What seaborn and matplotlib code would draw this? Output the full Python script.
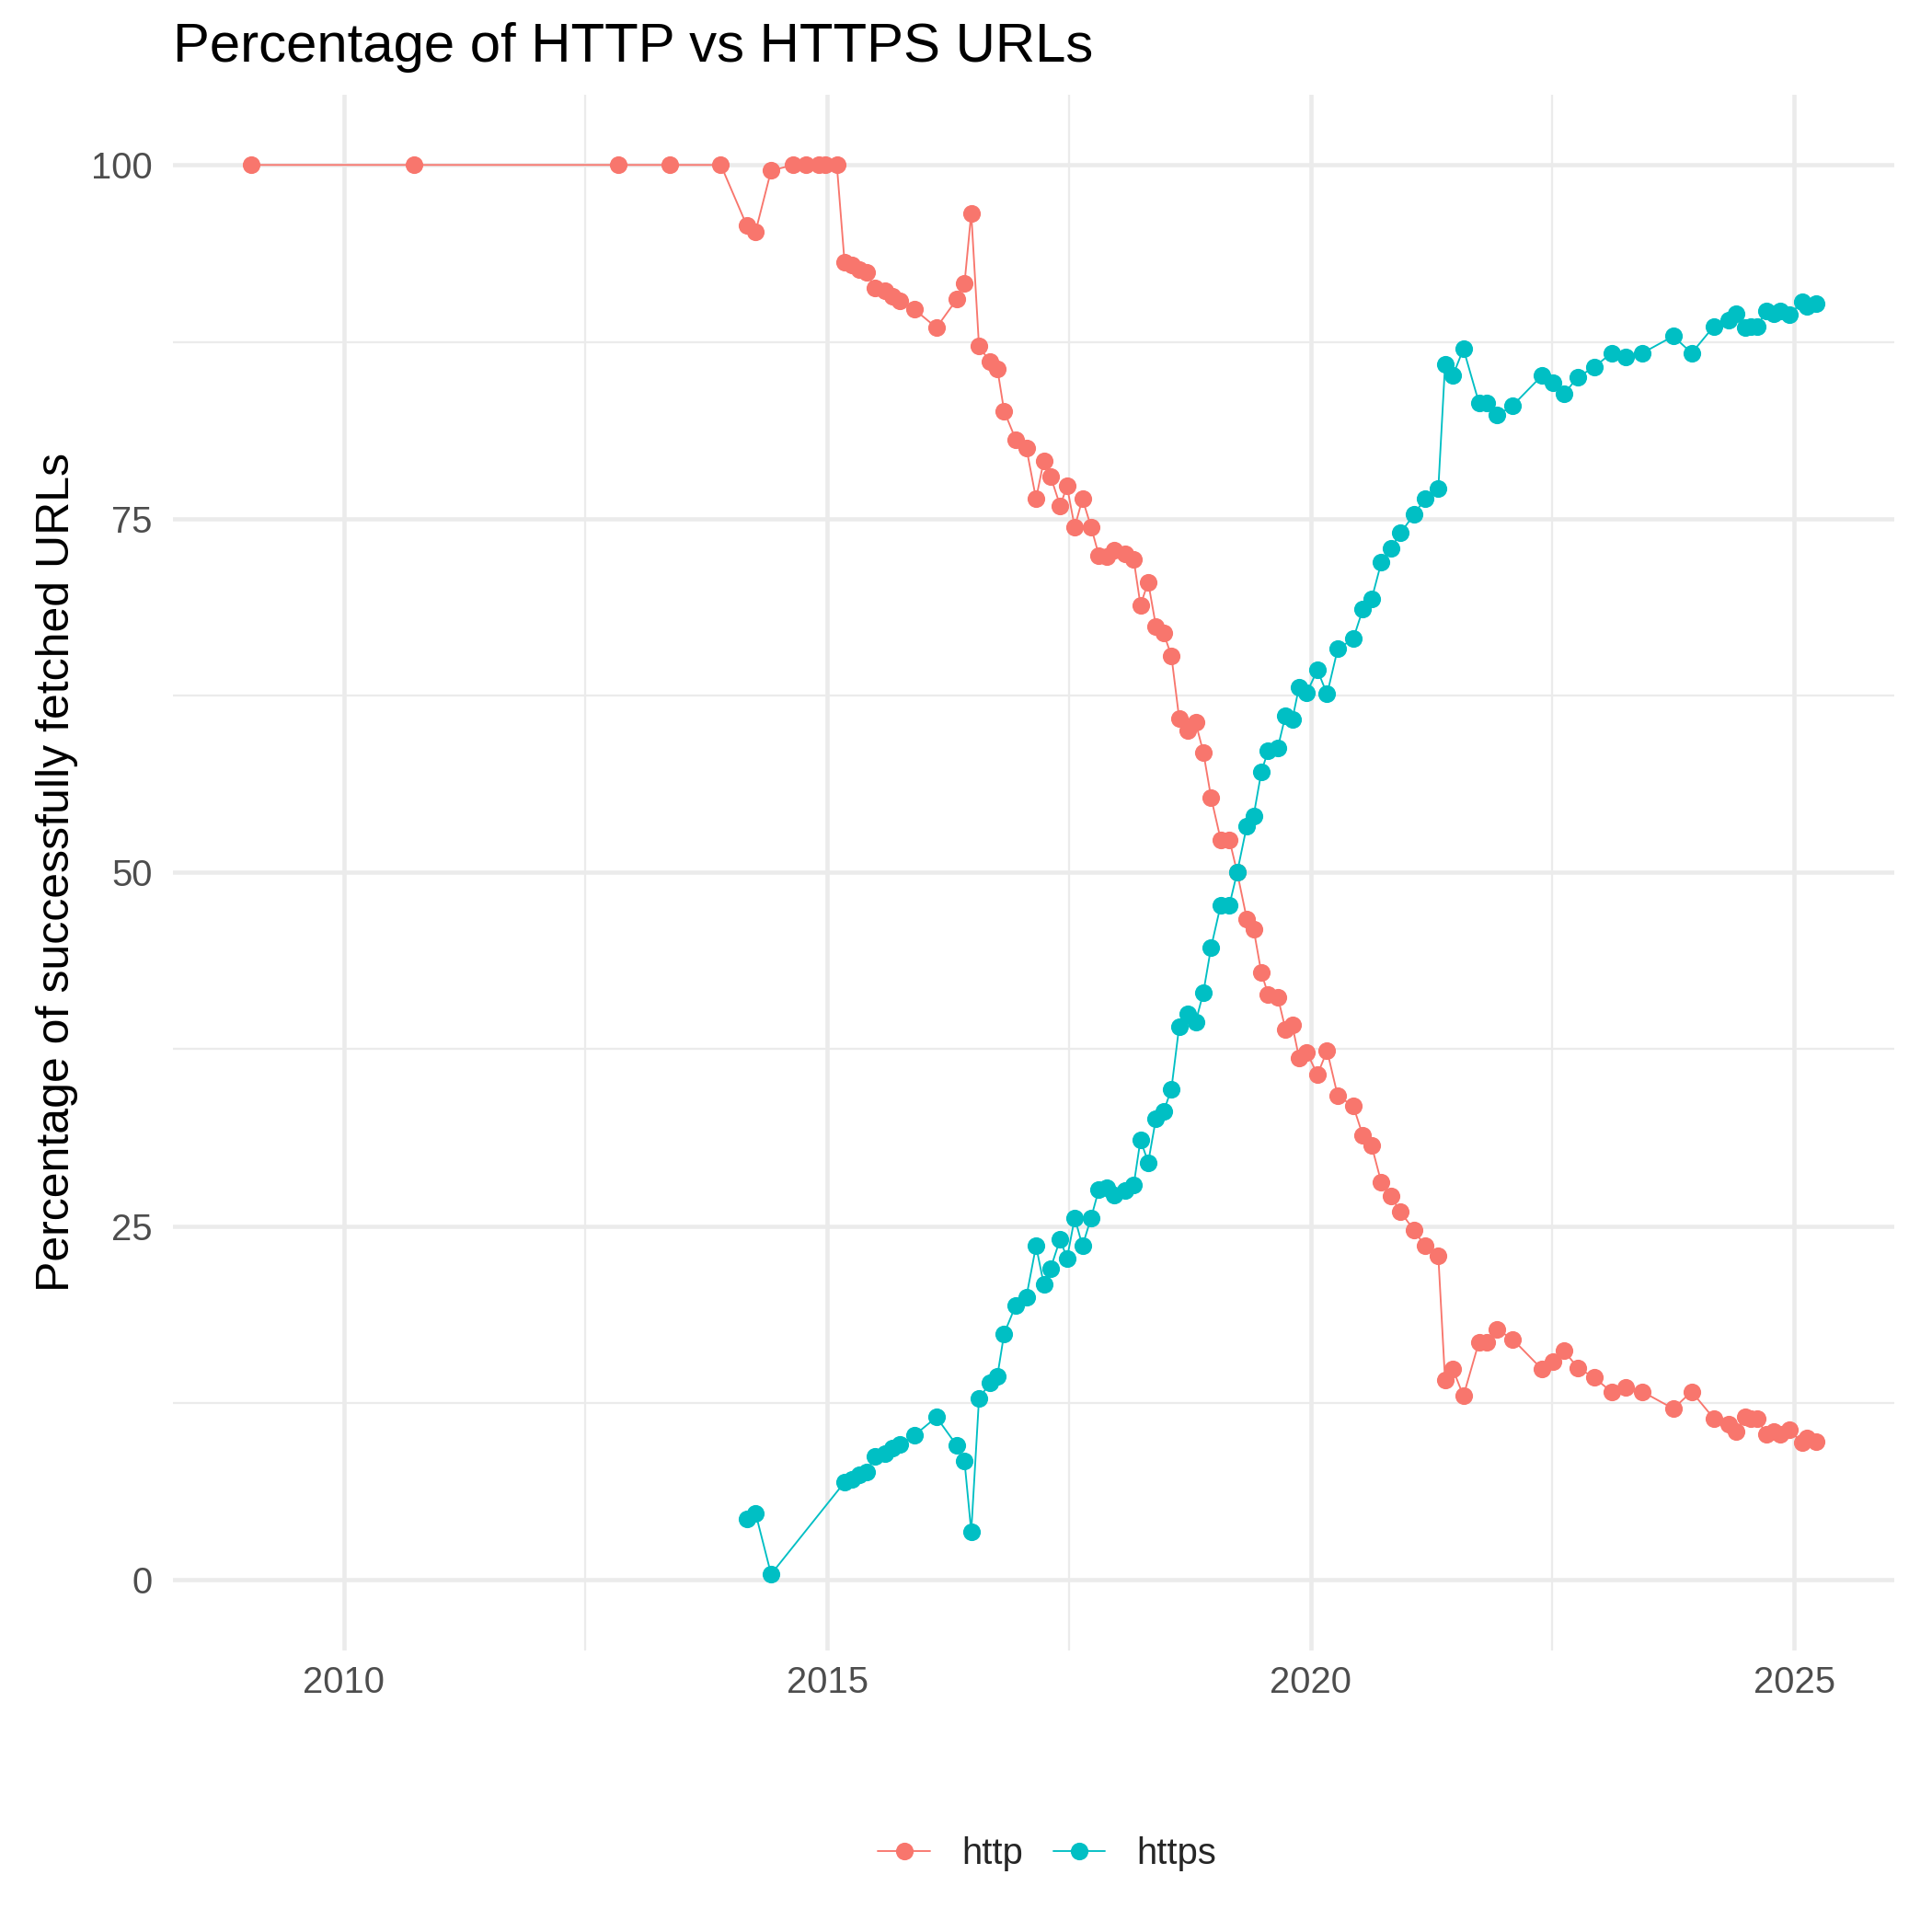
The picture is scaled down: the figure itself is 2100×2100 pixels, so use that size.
import pandas as pd
import matplotlib
matplotlib.use('Agg')
import matplotlib.pyplot as plt
import seaborn as sns

# Datum jako desetinny rok
http_dates = [2009.04, 2010.73, 2012.84, 2013.37, 2013.90, 2014.17, 2014.26, 2014.42,
              2014.65, 2014.78, 2014.91, 2014.98, 2015.10, 2015.18, 2015.26, 2015.33,
              2015.41, 2015.49, 2015.60, 2015.67, 2015.75, 2015.90, 2016.13, 2016.34,
              2016.42, 2016.49, 2016.57, 2016.68, 2016.76, 2016.83, 2016.95, 2017.06,
              2017.16, 2017.24, 2017.31, 2017.41, 2017.48, 2017.56, 2017.64, 2017.73,
              2017.81, 2017.89, 2017.97, 2018.08, 2018.17, 2018.24, 2018.32, 2018.40,
              2018.48, 2018.56, 2018.64, 2018.73, 2018.81, 2018.89, 2018.97, 2019.07,
              2019.16, 2019.24, 2019.34, 2019.41, 2019.49, 2019.56, 2019.66, 2019.74,
              2019.81, 2019.88, 2019.96, 2020.07, 2020.17, 2020.28, 2020.44, 2020.54,
              2020.63, 2020.73, 2020.83, 2020.93, 2021.07, 2021.18, 2021.32, 2021.39,
              2021.47, 2021.58, 2021.74, 2021.82, 2021.93, 2022.09, 2022.39, 2022.51,
              2022.62, 2022.76, 2022.93, 2023.11, 2023.26, 2023.43, 2023.75, 2023.94,
              2024.17, 2024.32, 2024.40, 2024.49, 2024.55, 2024.62, 2024.71, 2024.79,
              2024.86, 2024.95, 2025.08, 2025.13, 2025.23]
http_pct = [100, 100, 100, 100, 100, 95.7, 95.3, 99.6,
            100, 100, 100, 100, 100, 93.1, 92.9, 92.6,
            92.4, 91.3, 91.1, 90.7, 90.4, 89.8, 88.5, 90.5,
            91.6, 96.6, 87.2, 86.1, 85.6, 82.6, 80.6, 80.0,
            76.4, 79.1, 78.0, 75.9, 77.3, 74.4, 76.4, 74.4,
            72.4, 72.3, 72.8, 72.5, 72.1, 68.9, 70.5, 67.4,
            66.9, 65.3, 60.9, 60.0, 60.6, 58.5, 55.3, 52.3,
            52.3, 50.0, 46.7, 46.0, 42.9, 41.4, 41.2, 38.9,
            39.2, 36.9, 37.3, 35.7, 37.4, 34.2, 33.5, 31.4,
            30.7, 28.1, 27.1, 26.0, 24.7, 23.6, 22.9, 14.1,
            14.9, 13.0, 16.8, 16.8, 17.7, 17.0, 14.9, 15.4,
            16.2, 15.0, 14.3, 13.3, 13.6, 13.3, 12.1, 13.3,
            11.4, 11.0, 10.5, 11.5, 11.4, 11.4, 10.3, 10.5,
            10.3, 10.6, 9.7, 10.0, 9.8]

https_dates = [2014.17, 2014.26, 2014.42, 2015.18, 2015.26, 2015.33,
               2015.41, 2015.49, 2015.60, 2015.67, 2015.75, 2015.90, 2016.13, 2016.34,
               2016.42, 2016.49, 2016.57, 2016.68, 2016.76, 2016.83, 2016.95, 2017.06,
               2017.16, 2017.24, 2017.31, 2017.41, 2017.48, 2017.56, 2017.64, 2017.73,
               2017.81, 2017.89, 2017.97, 2018.08, 2018.17, 2018.24, 2018.32, 2018.40,
               2018.48, 2018.56, 2018.64, 2018.73, 2018.81, 2018.89, 2018.97, 2019.07,
               2019.16, 2019.24, 2019.34, 2019.41, 2019.49, 2019.56, 2019.66, 2019.74,
               2019.81, 2019.88, 2019.96, 2020.07, 2020.17, 2020.28, 2020.44, 2020.54,
               2020.63, 2020.73, 2020.83, 2020.93, 2021.07, 2021.18, 2021.32, 2021.39,
               2021.47, 2021.58, 2021.74, 2021.82, 2021.93, 2022.09, 2022.39, 2022.51,
               2022.62, 2022.76, 2022.93, 2023.11, 2023.26, 2023.43, 2023.75, 2023.94,
               2024.17, 2024.32, 2024.40, 2024.49, 2024.55, 2024.62, 2024.71, 2024.79,
               2024.86, 2024.95, 2025.08, 2025.13, 2025.23]
https_pct = [4.3, 4.7, 0.4, 6.9, 7.1, 7.4,
             7.6, 8.7, 8.9, 9.3, 9.6, 10.2, 11.5, 9.5,
             8.4, 3.4, 12.8, 13.9, 14.4, 17.4, 19.4, 20.0,
             23.6, 20.9, 22.0, 24.1, 22.7, 25.6, 23.6, 25.6,
             27.6, 27.7, 27.2, 27.5, 27.9, 31.1, 29.5, 32.6,
             33.1, 34.7, 39.1, 40.0, 39.4, 41.5, 44.7, 47.7,
             47.7, 50.0, 53.3, 54.0, 57.1, 58.6, 58.8, 61.1,
             60.8, 63.1, 62.7, 64.3, 62.6, 65.8, 66.5, 68.6,
             69.3, 71.9, 72.9, 74.0, 75.3, 76.4, 77.1, 85.9,
             85.1, 87.0, 83.2, 83.2, 82.3, 83.0, 85.1, 84.6,
             83.8, 85.0, 85.7, 86.7, 86.4, 86.7, 87.9, 86.7,
             88.6, 89.0, 89.5, 88.5, 88.6, 88.6, 89.7, 89.5,
             89.7, 89.4, 90.3, 90.0, 90.2]

x_ticks = [2010, 2015, 2020, 2025]
y_ticks = [0, 25, 50, 75, 100]

df = pd.concat([
    pd.DataFrame({'date': http_dates, 'pct': http_pct, 'scheme': 'http'}),
    pd.DataFrame({'date': https_dates, 'pct': https_pct, 'scheme': 'https'}),
])

sns.set_theme(style='white')
plt.rcParams['font.family'] = ['Liberation Sans', 'DejaVu Sans']

fig, ax = plt.subplots(figsize=(7, 7), dpi=300)
fig.subplots_adjust(left=0.0893, right=0.9807, bottom=0.1458, top=0.9511)

sns.lineplot(data=df, x='date', y='pct', hue='scheme',
             palette={'http': '#F8766D', 'https': '#00BFC4'},
             estimator=None, marker='o', markersize=4.6, markeredgewidth=0,
             linewidth=0.45, ax=ax)

ax.set_xlim(2008.23, 2026.04)
ax.set_ylim(-4.98, 104.98)
ax.set_xticks(x_ticks)
ax.set_xticks([2012.5, 2017.5, 2022.5], minor=True)
ax.set_yticks(y_ticks)
ax.set_yticks([12.5, 37.5, 62.5, 87.5], minor=True)
ax.grid(which='major', color='#EBEBEB', linewidth=1.1)
ax.grid(which='minor', color='#EBEBEB', linewidth=0.55)
ax.set_axisbelow(True)
for s in ax.spines.values():
    s.set_visible(False)
ax.tick_params(which='both', length=0)
ax.tick_params(axis='y', labelsize=9.6, labelcolor='#4D4D4D', pad=5.3)
ax.tick_params(axis='x', labelsize=9.6, labelcolor='#4D4D4D', pad=3.8)

ax.set_xlabel('')
ax.set_ylabel('Percentage of successfully fetched URLs', fontsize=12, color='black')
ax.yaxis.label.set_va('center')
ax.yaxis.set_label_coords(-0.0672, 0.5)

fig.text(0.0893, 0.968, 'Percentage of HTTP vs HTTPS URLs', fontsize=14.4,
         ha='left', va='baseline', color='black')

handles, labels = ax.get_legend_handles_labels()
ax.get_legend().remove()
fig.legend(handles, labels, loc='center', bbox_to_anchor=(0.542, 0.0405), ncol=2,
           frameon=False, fontsize=9.6, handlelength=1.42, handletextpad=0.85,
           columnspacing=0.82)

plt.savefig('out.png', dpi=300)
plt.close()
